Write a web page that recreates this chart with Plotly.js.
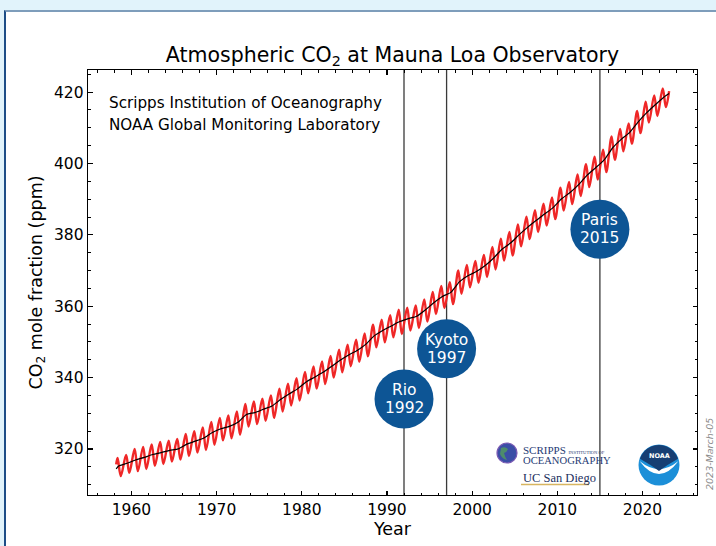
<!DOCTYPE html>
<html><head><meta charset="utf-8">
<script src="https://cdn.plot.ly/plotly-3.0.1.min.js"></script>
<style>
html,body{margin:0;padding:0;background:#e1f3fb;width:716px;height:546px;overflow:hidden}
#frame{position:absolute;left:4px;top:10px;width:712px;height:536px;background:#fff;border-top:2px solid #7e9dbb;border-left:2px solid #1d4d87;box-sizing:border-box}
#chart{position:absolute;left:0;top:0;width:716px;height:546px}
</style></head><body>
<div id="frame"></div><div id="chart"></div>
<script>
// ---- data (ppm) ----
const years = [1958,1959,1960,1961,1962,1963,1964,1965,1966,1967,
  1968,1969,1970,1971,1972,1973,1974,1975,1976,1977,
  1978,1979,1980,1981,1982,1983,1984,1985,1986,1987,
  1988,1989,1990,1991,1992,1993,1994,1995,1996,1997,
  1998,1999,2000,2001,2002,2003,2004,2005,2006,2007,
  2008,2009,2010,2011,2012,2013,2014,2015,2016,2017,
  2018,2019,2020,2021,2022];
const annualMean = [315.2,315.98,316.91,317.64,318.45,318.99,319.62,320.04,321.37,322.18,
  323.05,324.62,325.68,326.32,327.46,329.68,330.19,331.13,332.03,333.84,
  335.41,336.84,338.76,340.12,341.48,343.15,344.87,346.35,347.61,349.31,
  351.69,353.20,354.45,355.70,356.54,357.21,358.96,360.97,362.74,363.88,
  366.84,368.54,369.71,371.32,373.45,375.98,377.70,379.98,382.09,384.02,
  385.83,387.64,390.10,391.85,394.06,396.74,398.81,401.01,404.41,406.76,
  408.72,411.66,414.24,416.45,418.56];
const mayPeak = [317.5,318.3,320.0,320.6,321.3,322.0,322.3,322.8,324.2,325.0,
  326.0,327.6,328.7,329.4,330.5,332.6,333.3,334.1,335.0,336.9,
  338.3,339.8,341.6,343.1,344.5,346.1,347.8,349.2,350.6,352.4,
  354.8,356.2,357.5,359.0,359.6,360.2,361.9,364.0,365.7,366.7,
  370.0,371.6,372.7,374.4,376.6,378.9,380.8,382.9,385.1,386.9,
  388.7,390.5,393.2,394.8,396.9,399.8,401.9,403.9,407.6,409.7,
  411.2,414.7,417.3,419.1,421.0];
const autumnTrough = [312.4,313.3,313.8,314.4,315.3,315.8,316.5,317.0,318.0,319.0,
  319.7,321.2,322.4,323.0,324.0,326.3,327.0,327.9,328.7,330.5,
  332.2,333.6,335.6,336.9,338.2,340.0,341.5,343.2,344.4,346.0,
  348.5,349.9,351.3,352.2,353.2,353.9,355.7,357.8,359.5,360.6,
  363.5,365.3,366.6,368.2,370.3,372.8,374.2,376.8,378.8,380.8,
  382.6,384.4,386.8,388.6,390.9,393.4,395.5,397.6,401.0,403.4,
  405.5,408.5,411.5,413.3,415.8];
const firstMonthly = 315.7;   // March 1958
const lastMonthly = 420.3;    // February 2023
const firstTrend = 314.4;     // March 1958, de-seasonalized
const lastTrend = 419.6;      // February 2023, de-seasonalized
const eventYears = [1992, 1997, 2015];
const eventNames = ['Rio', 'Kyoto', 'Paris'];
const eventBadgePpm = [334.0, 348.1, 381.6];

// ---- build series ----
const MAR58 = 1958 + 2.5/12, FEB23 = 2023 + 1.5/12;
const redX = [MAR58], redY = [firstMonthly];
years.forEach((y, i) => {
  redX.push(y + 4.5/12); redY.push(mayPeak[i]);
  redX.push(y + 9/12);   redY.push(autumnTrough[i]);
});
redX.push(FEB23); redY.push(lastMonthly);
const blkX = [MAR58], blkY = [firstTrend];
years.forEach((y, i) => { blkX.push(y + 0.5); blkY.push(annualMean[i]); });
blkX.push(FEB23); blkY.push(lastTrend);

const FONT = 'DejaVu Sans, Verdana, sans-serif';
const SERIF = 'Liberation Serif, DejaVu Serif, serif';
// pixel -> paper helpers (plot area 88..697 x 70..495)
const L = 88, R = 697, T = 70, B = 495;
const px = v => (v - L) / (R - L);
const py = v => (B - v) / (B - T);

const traces = [
  {x: redX, y: redY, type: 'scatter', mode: 'lines',
   line: {color: '#ef2727', width: 2.4, shape: 'spline', smoothing: 1}, hoverinfo: 'skip'},
  {x: blkX, y: blkY, type: 'scatter', mode: 'lines',
   line: {color: '#000000', width: 1.2, shape: 'spline', smoothing: 0.6}, hoverinfo: 'skip'},
  {x: eventYears, y: eventBadgePpm, type: 'scatter', mode: 'markers',
   marker: {size: 59, color: '#0d5595', line: {width: 0}}, hoverinfo: 'skip'}
];

const shapes = eventYears.map(y => ({
  type: 'line', xref: 'x', yref: 'paper', x0: y, x1: y, y0: 0, y1: 1,
  line: {color: '#3a3a3a', width: 1.3}, layer: 'below'
}));

function pix(cx, cy, extra) {
  return Object.assign({xref: 'paper', yref: 'paper', xsizemode: 'pixel', ysizemode: 'pixel',
    xanchor: px(cx), yanchor: py(cy), layer: 'above'}, extra);
}
// Scripps globe
shapes.push(pix(507, 453, {type: 'circle', x0: -10, x1: 10, y0: -10, y1: 10,
  fillcolor: '#3b4ea6', line: {color: '#7a5ab4', width: 1.2}}));
shapes.push(pix(507, 453, {type: 'path', path: 'M -6 5 Q -2 7 1 4 Q 0 1 -3 0 Q -2 -4 0 -7 Q -5 -6 -7 -1 Z',
  fillcolor: '#4d8c6c', line: {width: 0}}));
// UC San Diego underline
shapes.push({type: 'line', xref: 'paper', yref: 'paper', x0: px(521), x1: px(589), y0: py(484.5), y1: py(484.5),
  line: {color: '#d7b560', width: 1.3}, layer: 'above'});
// NOAA logo
shapes.push(pix(659, 465, {type: 'circle', x0: -20.5, x1: 20.5, y0: -20.5, y1: 20.5,
  fillcolor: '#1c8fd8', line: {width: 0}}));
shapes.push(pix(659, 465, {type: 'path', path: 'M -19.5 4 Q 0 -22 19.5 4 Q 0 -12 -19.5 4 Z',
  fillcolor: '#ffffff', line: {width: 0}}));
shapes.push(pix(659, 465, {type: 'path',
  path: 'M -19.02 6.18 C -16.34 14.42 -8.66 20 0 20 C 8.66 20 16.34 14.42 19.02 6.18 Q 8 0 0 -6 Q -8 0 -19.02 6.18 Z',
  fillcolor: '#173f73', line: {width: 0}}));

const annotations = [
  {xref: 'paper', yref: 'paper', x: px(107), y: py(103), xanchor: 'left', yanchor: 'middle', showarrow: false,
   text: 'Scripps Institution of Oceanography', font: {family: FONT, size: 15.2, color: '#000'}},
  {xref: 'paper', yref: 'paper', x: px(107), y: py(125), xanchor: 'left', yanchor: 'middle', showarrow: false,
   text: 'NOAA Global Monitoring Laboratory', font: {family: FONT, size: 15.2, color: '#000'}},
  {xref: 'paper', yref: 'paper', x: px(521), y: py(449.5), xanchor: 'left', yanchor: 'middle', showarrow: false,
   text: 'SCRIPPS <span style="font-size:4.6px">INSTITUTION OF</span>', font: {family: SERIF, size: 11, color: '#1f3b74'}},
  {xref: 'paper', yref: 'paper', x: px(521), y: py(460), xanchor: 'left', yanchor: 'middle', showarrow: false,
   text: 'OCEANOGRAPHY', font: {family: SERIF, size: 10.6, color: '#1f3b74'}},
  {xref: 'paper', yref: 'paper', x: px(521), y: py(477.5), xanchor: 'left', yanchor: 'middle', showarrow: false,
   text: 'UC San Diego', font: {family: SERIF, size: 12.5, color: '#1b2f5e'}},
  {xref: 'paper', yref: 'paper', x: px(659), y: py(455.5), xanchor: 'center', yanchor: 'middle', showarrow: false,
   text: 'NOAA', font: {family: FONT, size: 6.5, color: '#ffffff', weight: 'bold'}},
  {xref: 'paper', yref: 'paper', x: px(709), y: py(454), xanchor: 'center', yanchor: 'middle', showarrow: false,
   textangle: -90, text: '2023-March-05', font: {family: FONT, size: 9.5, color: '#8c8c8c', style: 'italic'}}
];
eventYears.forEach((y, i) => {
  annotations.push({x: y, y: eventBadgePpm[i], xref: 'x', yref: 'y', showarrow: false, yshift: 9,
    text: eventNames[i], font: {family: FONT, size: 15.5, color: '#ffffff'}});
  annotations.push({x: y, y: eventBadgePpm[i], xref: 'x', yref: 'y', showarrow: false, yshift: -9,
    text: String(y), font: {family: FONT, size: 15.5, color: '#ffffff'}});
});

const axisCommon = {
  showline: true, linecolor: '#000', linewidth: 1.3, mirror: 'allticks',
  ticks: 'inside', ticklen: 4.5, tickwidth: 1.2, tickcolor: '#000',
  showgrid: false, zeroline: false,
  tickfont: {family: FONT, size: 15.5, color: '#000'}
};

const layout = {
  width: 716, height: 546,
  margin: {l: L, r: 716 - R, t: T, b: 546 - B, pad: 0},
  paper_bgcolor: 'rgba(0,0,0,0)', plot_bgcolor: '#ffffff',
  showlegend: false,
  title: {text: 'Atmospheric CO<sub>2</sub> at Mauna Loa Observatory',
    font: {family: FONT, size: 20.5, color: '#000'},
    x: 0.5, xref: 'paper', xanchor: 'center', y: 1 - 55/546, yref: 'container', yanchor: 'middle'},
  xaxis: Object.assign({}, axisCommon, {
    range: [1954.9, 2026.4], tick0: 1960, dtick: 10,
    minor: {dtick: 2, tick0: 1960, ticks: 'inside', ticklen: 2.5, tickwidth: 1, tickcolor: '#000'},
    title: {text: 'Year', font: {family: FONT, size: 17.5, color: '#000'}, standoff: 4}
  }),
  yaxis: Object.assign({}, axisCommon, {
    range: [307.1, 426.2], tick0: 300, dtick: 20,
    minor: {dtick: 5, tick0: 300, ticks: 'inside', ticklen: 2.5, tickwidth: 1, tickcolor: '#000'},
    title: {text: 'CO<sub>2</sub> mole fraction (ppm)', font: {family: FONT, size: 17.5, color: '#000'}, standoff: 7}
  }),
  shapes: shapes,
  annotations: annotations
};

Plotly.newPlot('chart', traces, layout, {displayModeBar: false, staticPlot: true});
</script>
</body></html>
